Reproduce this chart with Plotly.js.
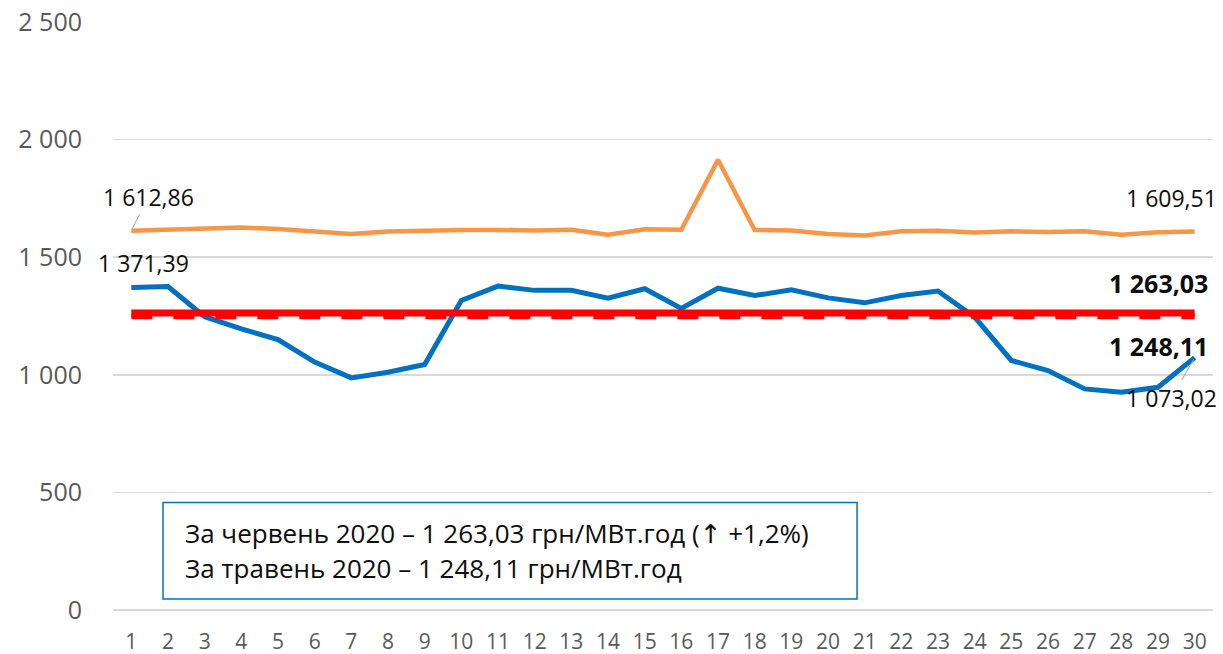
<!DOCTYPE html>
<html>
<head>
<meta charset="utf-8">
<script src="https://cdn.plot.ly/plotly-3.0.1.min.js"></script>
<style>
  html, body { margin: 0; padding: 0; background: #fff; }
  #chart { width: 1223px; height: 654px; }
</style>
</head>
<body>
<div id="chart"></div>
<script>
// Days of June 2020
const days = [1,2,3,4,5,6,7,8,9,10,11,12,13,14,15,16,17,18,19,20,21,22,23,24,25,26,27,28,29,30];

// Orange series
const orangeValues = [1612.86,1617,1622,1626,1620,1610,1599,1609,1613,1616,1616,1613,1617,1596,1619,1617,1914,1616,1613,1599,1592,1610,1612,1605,1610,1607,1610,1595,1606,1609.51];

// Blue series
const blueValues = [1371.39,1375,1247,1195,1150,1054,987,1011,1044,1316,1377,1359,1359,1326,1366,1282,1368,1337,1361,1327,1306,1337,1356,1245,1061,1018,940,926,947,1073.02];

// Monthly averages
const juneAvg = 1263.03;
const mayAvg = 1248.11;

const yTicks = [0, 500, 1000, 1500, 2000, 2500];

const boxLine1 = "За червень 2020 – 1 263,03 грн/МВт.год (<span style=\"font-family:'DejaVu Sans'\">↑</span> +1,2%)";
const boxLine2 = "За травень 2020 – 1 248,11 грн/МВт.год";

const fmt = v => v.toLocaleString('uk-UA', {minimumFractionDigits: 2, maximumFractionDigits: 2}).replace(/\u00a0|\u202f/g, ' ');

const lastIdx = days.length - 1;

const traces = [
  {x: days, y: orangeValues, type: 'scatter', mode: 'lines',
   line: {color: '#F79646', width: 4.5}, hoverinfo: 'skip'},
  {x: days, y: blueValues, type: 'scatter', mode: 'lines',
   line: {color: '#0070C0', width: 5}, hoverinfo: 'skip'},
  {x: days, y: days.map(() => mayAvg), type: 'scatter', mode: 'lines',
   line: {color: '#FF0000', width: 5.5, dash: '21px,21px'}, hoverinfo: 'skip'},
  {x: days, y: days.map(() => juneAvg), type: 'scatter', mode: 'lines',
   line: {color: '#FF0000', width: 7}, hoverinfo: 'skip'}
];

const labelFont = {family: 'Open Sans, sans-serif', size: 23, color: '#0D0D0D'};
const boldFont = {family: 'Open Sans, sans-serif', size: 25, color: '#0D0D0D', weight: 'bold'};

const annotations = [
  {x: days[0], y: orangeValues[0], xref: 'x', yref: 'y', text: fmt(orangeValues[0]),
   showarrow: true, arrowhead: 0, arrowwidth: 1, arrowcolor: '#A6A6A6', ax: 17, ay: -34,
   standoff: 2, font: labelFont},
  {x: days[0], y: blueValues[0], xref: 'x', yref: 'y', text: fmt(blueValues[0]),
   showarrow: false, xshift: 12, yshift: 24, font: labelFont},
  {x: days[lastIdx], y: orangeValues[lastIdx], xref: 'x', yref: 'y', text: fmt(orangeValues[lastIdx]),
   showarrow: false, xshift: -23, yshift: 33, font: labelFont},
  {x: days[lastIdx], y: juneAvg, xref: 'x', yref: 'y', text: '<b>' + fmt(juneAvg) + '</b>',
   showarrow: false, xshift: -36, yshift: 30, font: boldFont},
  {x: days[lastIdx], y: mayAvg, xref: 'x', yref: 'y', text: '<b>' + fmt(mayAvg) + '</b>',
   showarrow: false, xshift: -36, yshift: -30, font: boldFont},
  {x: days[lastIdx], y: blueValues[lastIdx], xref: 'x', yref: 'y', text: fmt(blueValues[lastIdx]),
   showarrow: true, arrowhead: 0, arrowwidth: 1, arrowcolor: '#A6A6A6', ax: -23, ay: 40,
   standoff: 2, font: labelFont},
  {x: 0.0636, y: 0.131, xref: 'paper', yref: 'paper', xanchor: 'left', yanchor: 'middle',
   text: boxLine1, showarrow: false, align: 'left',
   font: {family: 'Open Sans, sans-serif', size: 26, color: '#0D0D0D'}},
  {x: 0.0636, y: 0.0714, xref: 'paper', yref: 'paper', xanchor: 'left', yanchor: 'middle',
   text: boxLine2, showarrow: false, align: 'left',
   font: {family: 'Open Sans, sans-serif', size: 26, color: '#0D0D0D'}}
];

const layout = {
  width: 1223, height: 654,
  margin: {l: 113, r: 10, t: 22, b: 44, pad: 0},
  paper_bgcolor: '#FFFFFF', plot_bgcolor: '#FFFFFF',
  showlegend: false,
  separators: ', ',
  xaxis: {
    type: 'linear', range: [0.5, 30.5], tickmode: 'array', tickvals: days,
    ticktext: days.map(String),
    showgrid: false, zeroline: false, showline: false,
    ticks: '', ticklabelstandoff: 17,
    tickfont: {family: 'Open Sans, sans-serif', size: 21, color: '#595959'},
    fixedrange: true
  },
  yaxis: {
    range: [0, 2500], tickmode: 'array', tickvals: yTicks,
    ticktext: yTicks.map(v => v.toLocaleString('uk-UA').replace(/\u00a0|\u202f/g, ' ')),
    showgrid: true, gridcolor: '#D9D9D9', gridwidth: 1.5,
    zeroline: true, zerolinecolor: '#D9D9D9', zerolinewidth: 1.5,
    showline: false, ticks: '', ticklabelstandoff: 30,
    tickfont: {family: 'Open Sans, sans-serif', size: 25, color: '#595959'},
    fixedrange: true
  },
  shapes: [
    {type: 'rect', xref: 'paper', yref: 'paper', x0: 0.04545, x1: 0.6764, y0: 0.0187, y1: 0.183,
     line: {color: '#0070C0', width: 1.5}, fillcolor: '#FFFFFF', layer: 'above'}
  ],
  annotations: annotations
};

Plotly.newPlot('chart', traces, layout, {staticPlot: true, displayModeBar: false});
</script>
</body>
</html>
